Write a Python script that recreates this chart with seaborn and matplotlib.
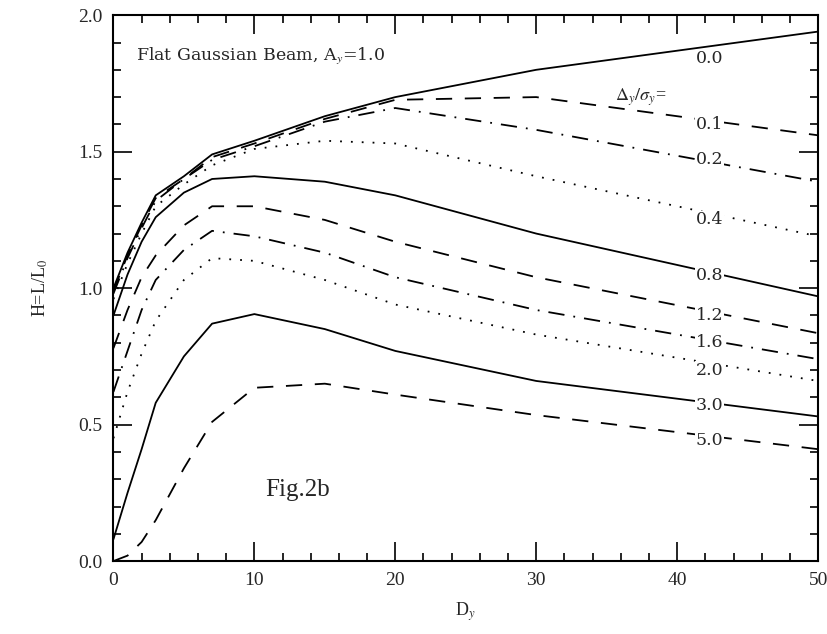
import matplotlib
matplotlib.use("Agg")
import matplotlib.pyplot as plt
from matplotlib.ticker import MultipleLocator
import seaborn as sns

# disruption parameter grid
d_y = [0, 1, 2, 3, 5, 7, 10, 15, 20, 30, 50]

# luminosity enhancement H for each offset Delta_y/sigma_y
offsets = ["0.0", "0.1", "0.2", "0.4", "0.8", "1.2", "1.6", "2.0", "3.0", "5.0"]
h_00 = [1.00, 1.13, 1.24, 1.34, 1.41, 1.49, 1.54, 1.63, 1.70, 1.80, 1.94]
h_01 = [0.99, 1.12, 1.23, 1.33, 1.40, 1.48, 1.53, 1.62, 1.69, 1.70, 1.56]
h_02 = [0.98, 1.11, 1.22, 1.32, 1.40, 1.47, 1.52, 1.61, 1.66, 1.58, 1.39]
h_04 = [0.96, 1.09, 1.20, 1.30, 1.38, 1.45, 1.51, 1.54, 1.53, 1.41, 1.19]
h_08 = [0.90, 1.05, 1.17, 1.26, 1.35, 1.40, 1.41, 1.39, 1.34, 1.20, 0.97]
h_12 = [0.78, 0.92, 1.04, 1.12, 1.23, 1.30, 1.30, 1.25, 1.17, 1.04, 0.835]
h_16 = [0.62, 0.77, 0.92, 1.03, 1.14, 1.21, 1.19, 1.13, 1.04, 0.92, 0.74]
h_20 = [0.45, 0.62, 0.76, 0.88, 1.03, 1.11, 1.10, 1.03, 0.94, 0.83, 0.66]
h_30 = [0.08, 0.25, 0.41, 0.58, 0.75, 0.87, 0.905, 0.85, 0.77, 0.66, 0.53]
h_50 = [0.00, 0.02, 0.07, 0.15, 0.34, 0.51, 0.635, 0.65, 0.61, 0.535, 0.41]
curves = [h_00, h_01, h_02, h_04, h_08, h_12, h_16, h_20, h_30, h_50]

# label positions at the right end
label_x = 42.3
label_y = [1.84, 1.60, 1.47, 1.25, 1.045, 0.90, 0.80, 0.70, 0.57, 0.44]

solid = "-"
dashed = (0, (9, 7))
dashdot = (0, (9, 5, 1, 5))
dotted = (0, (1, 5))
styles = [solid, dashed, dashdot, dotted, solid, dashed, dashdot, dotted, solid, dashed]

sns.set_theme(style="ticks")
plt.rcParams["font.family"] = ["Liberation Serif", "DejaVu Serif"]
plt.rcParams["mathtext.fontset"] = "stix"

fig = plt.figure(figsize=(8.28, 6.34), dpi=100)
ax = fig.add_axes([0.137, 0.115, 0.851, 0.861])

for vals, ls in zip(curves, styles):
    sns.lineplot(x=d_y, y=vals, ax=ax, color="black", linewidth=1.3,
                 linestyle=ls, sort=False, legend=False)

for lab, ly in zip(offsets, label_y):
    ax.text(label_x, ly, lab, fontsize=12.5, ha="center", va="center",
            family="DejaVu Serif",
            bbox=dict(facecolor="white", edgecolor="none", pad=0.3))
ax.text(37.4, 1.70, r"$\Delta_y/\sigma_y$=", fontsize=13, ha="center", va="center")

ax.text(1.6, 1.85, r"Flat Gaussian Beam, A$_y$=1.0", fontsize=12.5,
        family="DejaVu Serif", ha="left", va="center")
ax.text(10.8, 0.26, "Fig.2b", fontsize=18, ha="left", va="center")

ax.set_xlim(0, 50)
ax.set_ylim(0, 2.0)
ax.xaxis.set_major_locator(MultipleLocator(10))
ax.xaxis.set_minor_locator(MultipleLocator(2))
ax.yaxis.set_major_locator(MultipleLocator(0.5))
ax.yaxis.set_minor_locator(MultipleLocator(0.1))
ax.yaxis.set_major_formatter(matplotlib.ticker.FormatStrFormatter("%.1f"))
ax.tick_params(which="both", direction="in", top=True, right=True,
               labelsize=14, color="black", width=1.2)
ax.tick_params(which="major", length=14, pad=8)
ax.tick_params(which="minor", length=6)
for s in ax.spines.values():
    s.set_linewidth(1.5)
    s.set_color("black")

ax.set_xlabel(r"D$_y$", fontsize=13, labelpad=8)
ax.set_ylabel(r"H=L/L$_0$", fontsize=13, labelpad=20)

fig.savefig("out.png", dpi=100)
